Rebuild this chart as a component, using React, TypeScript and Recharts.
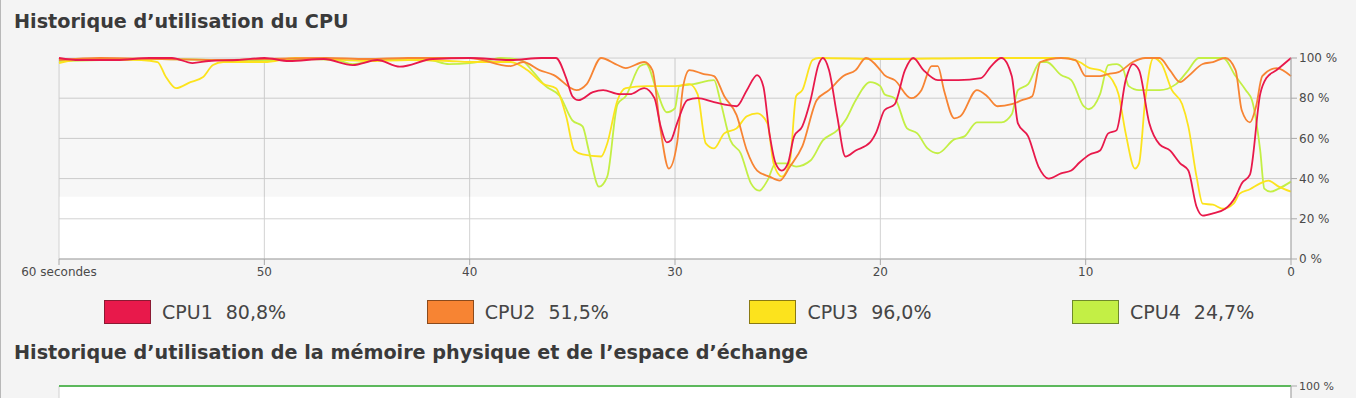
import React from "react";
import {
  LineChart,
  Line,
  XAxis,
  YAxis,
  CartesianGrid,
  ReferenceArea,
} from "recharts";

// seconds ago -> usage %
const cpu1: [number, number][] = [
  [60, 100], [59, 99], [57.2, 99], [55.6, 100], [54.5, 100], [53.5, 97.5], [52.7, 98.5],
  [51.3, 99], [50, 100], [48.8, 98.5], [47.1, 99.5], [45.7, 96.5], [44.5, 99], [43.4, 95.7],
  [41.8, 99.5], [40, 100], [38, 99], [36.5, 100], [35.8, 100], [35.3, 90], [35, 81],
  [34.7, 79], [34, 83], [33.5, 84], [32.7, 82], [32.2, 82], [31.5, 85], [31, 80], [30.7, 66],
  [30.4, 58], [30.2, 59], [29.9, 67.5], [29.4, 79], [28.9, 80], [28.1, 78], [27, 76],
  [26.5, 84], [26, 91.5], [25.7, 86], [25.4, 62.5], [25.1, 47.6], [24.8, 44], [24.5, 47.6],
  [24.2, 61], [23.8, 66], [23.4, 79], [23, 97], [22.8, 100], [22.5, 94], [22.1, 71],
  [21.7, 51], [21.2, 54], [20.5, 58], [20.2, 63], [19.8, 74], [19.3, 77], [18.8, 94],
  [18.4, 100], [17.9, 94], [17.2, 89], [16.2, 89], [15.1, 90], [14.6, 96], [14.1, 100],
  [13.6, 91], [13.3, 67.5], [12.8, 61], [12.3, 46], [11.8, 40], [11.2, 42.6], [10.7, 44],
  [10.3, 48], [9.8, 52], [9.3, 54], [8.9, 62.5], [8.5, 64], [8.05, 89], [7.7, 97], [7.4, 94],
  [6.9, 67.5], [6.4, 57], [5.9, 54], [5.4, 47.6], [5.0, 44], [4.6, 26], [4.3, 21.6],
  [3.8, 22.7], [3.2, 25], [2.7, 31], [2.4, 37.6], [2.0, 42], [1.5, 82], [1.2, 90], [0.7, 94],
  [0, 100],
];

const cpu2: [number, number][] = [
  [60, 99], [58, 100], [55, 99.5], [52, 99], [50, 99.5], [47, 100], [45, 99.5], [43, 100],
  [40, 100], [38, 96], [37.4, 98], [36.6, 94], [35.9, 91.5], [34.8, 84], [34.3, 87],
  [33.6, 100], [32.8, 96.5], [32.4, 95], [31.5, 98], [31.1, 94], [30.7, 64], [30.3, 45],
  [29.9, 57.5], [29.6, 86], [29.3, 94], [28.6, 92], [28.1, 91], [27.6, 81], [27, 71.6],
  [26.5, 54], [26, 44], [25.4, 41], [24.9, 39], [24.4, 46], [23.8, 56], [23.1, 79],
  [22.5, 84], [21.8, 91], [21.2, 94], [20.7, 100], [20, 94], [19.8, 91.5], [19.3, 89],
  [18.5, 80], [18, 84], [17.5, 96], [17.2, 96], [16.9, 84], [16.4, 70], [16.1, 71],
  [15.3, 84], [14.8, 81], [14.3, 76], [13.6, 77], [13.1, 79], [12.6, 81], [12.2, 98],
  [11.2, 100], [10.5, 99], [10, 91], [9.3, 91], [8.9, 92], [8.4, 93], [7.7, 98], [7.1, 100],
  [6.4, 100], [5.9, 94], [5.4, 88], [5.0, 91], [4.3, 97], [3.8, 98], [3.2, 100], [2.7, 94],
  [2.4, 74], [2.0, 68], [1.7, 76], [1.4, 91], [0.7, 95], [0, 91],
];

const cpu3: [number, number][] = [
  [60, 97.5], [58.8, 99.5], [56, 99], [55.2, 98], [54.8, 90.7], [54.3, 85], [53.6, 88],
  [53, 90.4], [52.5, 96.5], [52, 98], [50, 98], [48.5, 100], [47, 99.5], [45, 98.5],
  [43, 99], [41, 98.5], [40, 98], [38, 98], [37.2, 94], [36.4, 87], [35.8, 85], [35.3, 71],
  [34.9, 54], [34.5, 52], [33.6, 51], [33.3, 57.5], [32.8, 79], [32.4, 85], [31.4, 86],
  [30, 86], [29.3, 87], [28.9, 82], [28.5, 57.5], [28.1, 55], [27.6, 62.5], [27, 65],
  [26.5, 71], [26, 72.5], [25.5, 67.5], [25.2, 47.6], [24.8, 41], [24.4, 49], [24.1, 81],
  [23.8, 84], [23.3, 99], [23, 100], [20, 99.5], [15, 100], [11, 100], [10.3, 98],
  [9.8, 95], [9.3, 94], [8.7, 89], [8.4, 82], [8.05, 62.5], [7.6, 45], [7.4, 47.6],
  [7.1, 79], [6.7, 100], [6.3, 97], [5.8, 84], [5.3, 77], [5.0, 66], [4.6, 41], [4.3, 27.5],
  [3.8, 27], [3.3, 25], [2.8, 27.5], [2.5, 32.5], [2.0, 34.7], [1.5, 37.6], [1.1, 39],
  [0.6, 36], [0, 33.5],
];

const cpu4: [number, number][] = [
  [60, 98.5], [58, 99], [55, 99.5], [52, 99], [50, 99], [48, 99.5], [46.5, 99], [45.7, 97],
  [44.5, 99], [42, 99], [41, 97], [40, 97.5], [39, 99], [38.5, 100], [37.5, 99], [36.9, 93],
  [36.3, 86], [35.6, 81], [35, 69], [34.5, 66], [34.2, 54], [33.7, 36], [33.3, 41],
  [32.8, 77], [32.4, 81], [31.7, 96], [31.4, 97], [30.9, 84], [30.4, 73], [30, 75],
  [29.8, 86], [29.1, 87], [28.1, 89], [27.8, 79], [27.3, 59], [26.8, 52.6], [26.3, 37.6],
  [25.9, 34], [25.5, 39], [25.1, 47.6], [24.6, 47.6], [24.1, 46], [23.4, 49], [22.8, 59],
  [22.1, 64], [21.7, 69], [21.2, 79], [20.5, 88], [20, 86], [19.8, 82], [19.3, 80],
  [18.7, 65], [18.2, 62.5], [17.7, 55], [17.2, 52.6], [16.4, 59.5], [15.9, 61], [15.3, 68],
  [14.1, 68], [13.6, 72], [13.3, 84], [12.8, 87], [12.2, 98], [11.9, 98], [11.2, 91.5],
  [10.7, 89], [10.1, 76], [9.85, 74.5], [9.3, 82], [8.9, 96.5], [8.5, 97], [8.2, 95],
  [7.9, 86], [7.4, 84], [6.4, 84], [5.6, 87], [5.0, 94], [4.5, 100], [3.3, 100], [2.7, 91],
  [2.2, 84], [1.9, 79], [1.5, 54], [1.3, 35], [1.0, 33.5], [0.6, 35], [0, 38.5],
];

const memory: [number, number][] = [
  [60, 100], [0, 100],
];

const xTicks = [0, 10, 20, 30, 40, 50, 60];
const yTicks = [0, 20, 40, 60, 80, 100];
const seriesNames = ["CPU1", "CPU2", "CPU3", "CPU4"];
const seriesCurrent = ["80,8%", "51,5%", "96,0%", "24,7%"];
const seriesColors = ["#e8194b", "#f78433", "#fce31d", "#c3ef45"];
const seriesBorders = ["#8a1a33", "#8a4a1c", "#8a7a12", "#6f8a2a"];
const titles = [
  "Historique d’utilisation du CPU",
  "Historique d’utilisation de la mémoire physique et de l’espace d’échange",
];

const toPts = (arr: [number, number][]) => arr.map(([t, v]) => ({ t, v }));
const allSeries = [cpu1, cpu2, cpu3, cpu4];

const FONT = "'DejaVu Sans', sans-serif";
const tickStyle = { fontSize: 12, fill: "#4a4a4a", fontFamily: FONT };

const xFmt = (v: number) => (v === 60 ? "60 secondes" : String(v));
const yFmt = (v: number) => `${v} %`;

export default function App() {
  const drawOrder = [3, 2, 1, 0];
  return (
    <div
      style={{
        position: "fixed",
        left: 0,
        top: 0,
        width: 1356,
        height: 398,
        overflow: "hidden",
        background: "#f4f4f4",
        fontFamily: FONT,
      }}
    >
      <div
        style={{
          position: "absolute",
          left: 0,
          top: 0,
          width: 1,
          height: 398,
          background: "#b8b8b8",
        }}
      />
      <div
        style={{
          position: "absolute",
          left: 14,
          top: 11,
          fontSize: 19.2,
          lineHeight: "22px",
          fontWeight: 700,
          color: "#3a3a3a",
          whiteSpace: "nowrap",
        }}
      >
        {titles[0]}
      </div>

      <div style={{ position: "absolute", left: 0, top: 0 }}>
        <LineChart
          width={1356}
          height={285}
          margin={{ top: 58, right: 5, bottom: 6, left: 59 }}
        >
          <CartesianGrid stroke="#d2d2d2" fill="#ffffff" />
          <ReferenceArea y1={31} y2={100} fill="#000000" fillOpacity={0.03} stroke="none" />
          <XAxis
            type="number"
            dataKey="t"
            domain={[0, 60]}
            reversed
            ticks={xTicks}
            tickFormatter={xFmt}
            tick={tickStyle}
            tickSize={6}
            stroke="#a8a8a8"
            height={20}
            allowDuplicatedCategory={false}
            interval={0}
          />
          <YAxis
            orientation="right"
            type="number"
            domain={[0, 100]}
            ticks={yTicks}
            tickFormatter={yFmt}
            tick={{ ...tickStyle, textAnchor: "start" }}
            tickSize={6}
            stroke="#a8a8a8"
            width={60}
            interval={0}
          />
          {drawOrder.map((i) => (
            <Line
              key={seriesNames[i]}
              data={toPts(allSeries[i])}
              dataKey="v"
              type="monotone"
              stroke={seriesColors[i]}
              strokeWidth={1.8}
              dot={false}
              activeDot={false}
              isAnimationActive={false}
              name={seriesNames[i]}
            />
          ))}
        </LineChart>
      </div>

      {seriesNames.map((n, i) => (
        <div
          key={n}
          style={{
            position: "absolute",
            left: 104 + i * 322.7,
            top: 300,
            height: 24,
            display: "flex",
            alignItems: "center",
            whiteSpace: "nowrap",
          }}
        >
          <div
            style={{
              width: 45,
              height: 22,
              background: seriesColors[i],
              border: `1px solid ${seriesBorders[i]}`,
              boxSizing: "content-box",
            }}
          />
          <span style={{ marginLeft: 11, fontSize: 19, color: "#454545" }}>
            {n}
            <span style={{ marginLeft: 13 }}>{seriesCurrent[i]}</span>
          </span>
        </div>
      ))}

      <div
        style={{
          position: "absolute",
          left: 14,
          top: 342,
          fontSize: 19.2,
          lineHeight: "22px",
          fontWeight: 700,
          color: "#3a3a3a",
          whiteSpace: "nowrap",
        }}
      >
        {titles[1]}
      </div>

      <div style={{ position: "absolute", left: 0, top: 380 }}>
        <LineChart
          width={1356}
          height={200}
          margin={{ top: 6, right: 5, bottom: 6, left: 59 }}
        >
          <CartesianGrid stroke="#d2d2d2" fill="#ffffff" />
          <XAxis
            type="number"
            dataKey="t"
            domain={[0, 60]}
            reversed
            ticks={xTicks}
            tick={false}
            stroke="#a8a8a8"
            height={20}
          />
          <YAxis
            orientation="right"
            type="number"
            domain={[0, 100]}
            ticks={yTicks}
            tickFormatter={yFmt}
            tick={{ ...tickStyle, fontSize: 11, textAnchor: "start" }}
            tickSize={6}
            stroke="#a8a8a8"
            width={60}
            interval={0}
          />
          <Line
            data={toPts(memory)}
            dataKey="v"
            type="monotone"
            stroke="#5cb85c"
            strokeWidth={2.2}
            dot={false}
            isAnimationActive={false}
            name="Mémoire"
          />
        </LineChart>
      </div>
    </div>
  );
}
